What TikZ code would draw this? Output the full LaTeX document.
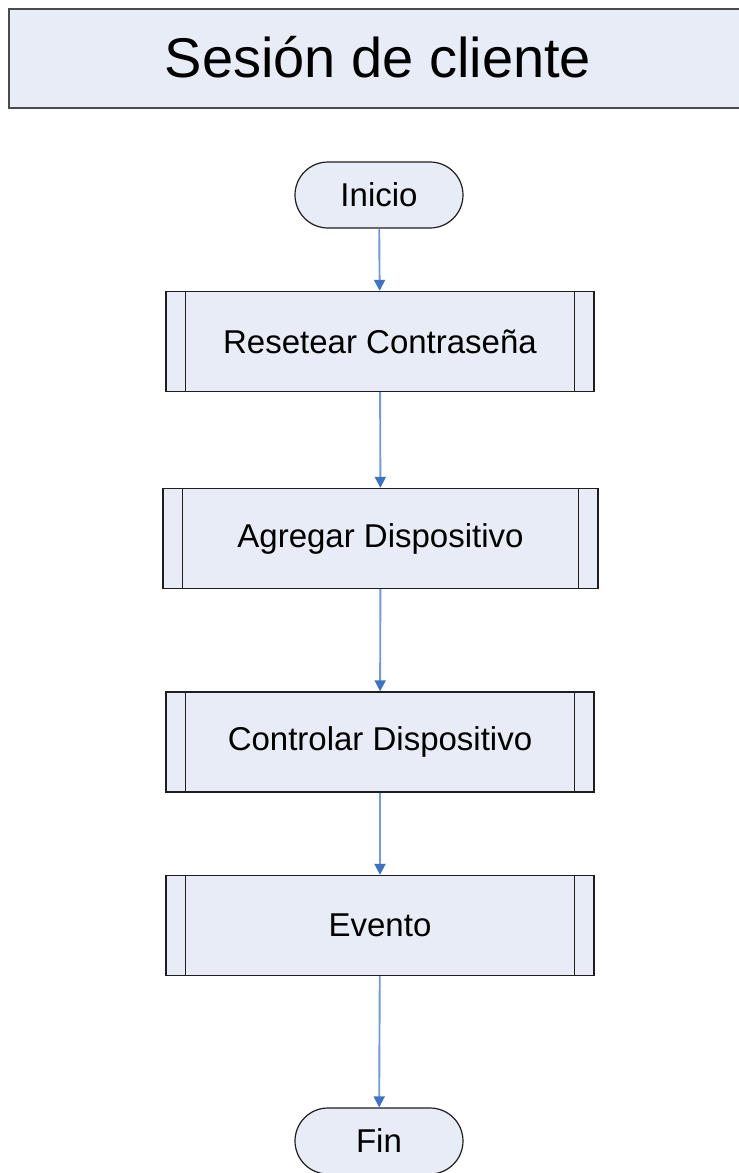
\documentclass[tikz,border=0pt]{standalone}
\usepackage{fontspec}
\setmainfont{Liberation Sans}
\usetikzlibrary{arrows.meta}
\definecolor{boxfill}{HTML}{E8ECF6}
\definecolor{boxline}{HTML}{1E1E1E}
\definecolor{flowline}{HTML}{7499D6}
\definecolor{flowhead}{HTML}{3F72C4}
\tikzset{
  titlebox/.style={draw=boxline!80, line width=1.6pt, fill=boxfill, anchor=north west,
    minimum width=760pt, minimum height=99pt, inner sep=0pt},
  terminal/.style={draw=boxline, line width=1.2pt, fill=boxfill, rounded corners=33pt,
    minimum width=168pt, minimum height=66pt, inner sep=0pt,
    font=\fontsize{33}{38}\selectfont},
  process/.style={draw=boxline, line width=1.4pt, fill=boxfill,
    minimum width=428pt, minimum height=100pt, inner sep=0pt,
    font=\fontsize{33}{38}\selectfont},
  sidebar/.style={draw=boxline, line width=1.2pt},
  flow/.style={draw=flowline, line width=1.9pt,
    -{Triangle[length=11pt,width=11pt,color=flowhead]}}
}
\begin{document}
\begin{tikzpicture}[x=1pt,y=-1pt]
  \useasboundingbox (0,0) rectangle (739,1173);
  \fill[white] (0,0) rectangle (739,1173);

  % heading bar running off the right edge
  \node[titlebox] (title) at (8,8) {};
  \node[font=\fontsize{56}{60}\selectfont, inner sep=0pt] (titletext) at (378,57) {Sesión de cliente};

  % flow nodes
  \node[terminal] (inicio) at (379,195) {Inicio};
  \node[process] (reset) at (380,341.5) {Resetear Contraseña};
  \node[process, minimum width=435pt] (agregar) at (380.5,538.5) {Agregar Dispositivo};
  \node[process] (controlar) at (380,742) {Controlar Dispositivo};
  \node[process] (evento) at (380,925.5) {Evento};
  \node[terminal] (fin) at (379,1141) {Fin};

  % inner side bars of the predefined-process boxes
  \foreach \n in {reset,agregar,controlar,evento}{
    \draw[sidebar] ([xshift=20pt]\n.north west) -- ([xshift=20pt]\n.south west);
    \draw[sidebar] ([xshift=-20pt]\n.north east) -- ([xshift=-20pt]\n.south east);
  }

  % connectors
  \draw[flow] (inicio) -- (reset);
  \draw[flow] (reset) -- (agregar);
  \draw[flow] (agregar) -- (controlar);
  \draw[flow] (controlar) -- (evento);
  \draw[flow] (evento) -- (fin);
\end{tikzpicture}
\end{document}
